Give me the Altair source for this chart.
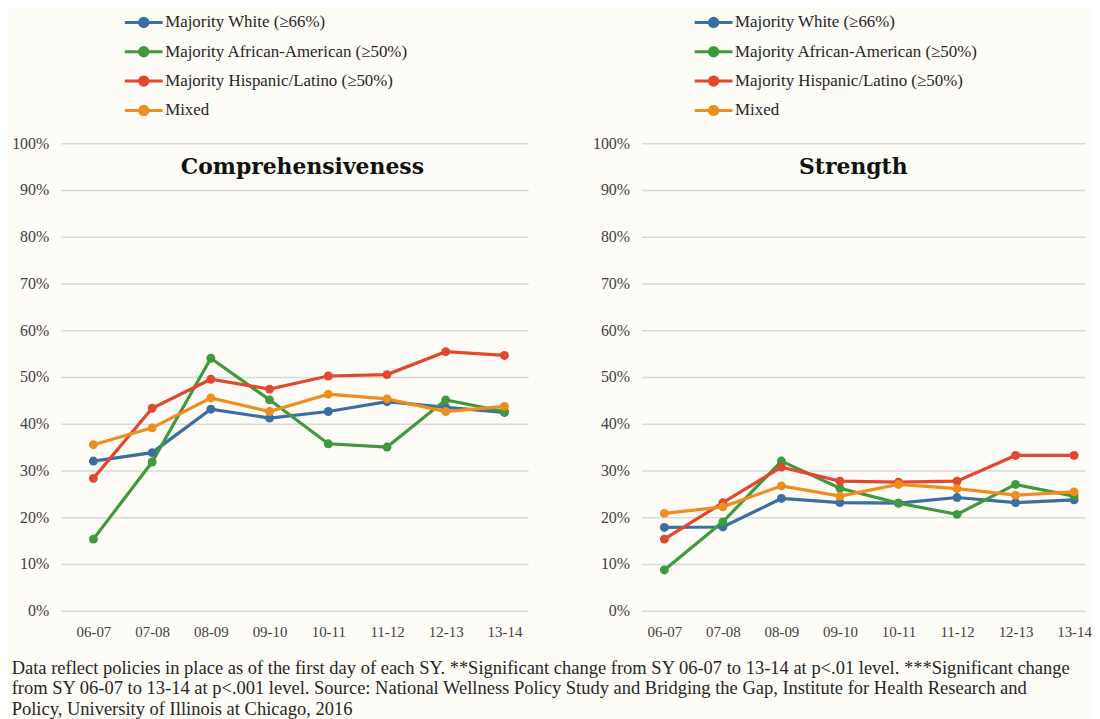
import altair as alt
import pandas as pd

years = ["06-07", "07-08", "08-09", "09-10", "10-11", "11-12", "12-13", "13-14"]
groups = [
    "Majority White (≥66%)",
    "Majority African-American (≥50%)",
    "Majority Hispanic/Latino (≥50%)",
    "Mixed",
]
colors = ["#3A6EA5", "#3E9A3C", "#E2472F", "#EE8E1F"]

comp_white = [32.0, 33.8, 43.1, 41.2, 42.6, 44.7, 43.5, 42.4]
comp_black = [15.3, 31.8, 54.0, 45.1, 35.7, 35.0, 45.1, 42.6]
comp_hisp = [28.3, 43.3, 49.5, 47.4, 50.2, 50.5, 55.4, 54.6]
comp_mixed = [35.5, 39.1, 45.5, 42.6, 46.3, 45.3, 42.6, 43.7]

str_white = [17.8, 17.9, 24.0, 23.1, 23.0, 24.2, 23.1, 23.7]
str_black = [8.7, 19.0, 32.0, 26.2, 23.0, 20.6, 27.0, 24.5]
str_hisp = [15.3, 23.1, 30.7, 27.7, 27.5, 27.7, 33.2, 33.2]
str_mixed = [20.8, 22.2, 26.7, 24.5, 27.0, 26.1, 24.7, 25.4]

footnote = [
    "Data reflect policies in place as of the first day of each SY. **Significant change from SY 06-07 to 13-14 at p<.01 level. ***Significant change",
    "from SY 06-07 to 13-14 at p<.001 level. Source: National Wellness Policy Study and Bridging the Gap, Institute for Health Research and",
    "Policy, University of Illinois at Chicago, 2016",
]


def make_df(series):
    rows = []
    for g, vals in zip(groups, series):
        for y, v in zip(years, vals):
            rows.append({"group": g, "year": y, "value": v})
    return pd.DataFrame(rows)


comp_df = make_df([comp_white, comp_black, comp_hisp, comp_mixed])
str_df = make_df([str_white, str_black, str_hisp, str_mixed])

SERIF = "Liberation Serif"
SYMBOL = "M-1.9,0H1.9M0.42,0A0.42,0.42,0,1,1,-0.42,0A0.42,0.42,0,1,1,0.42,0Z"


def panel(df, title, width, pad, align, legend_x, title_dx):
    base = alt.Chart(df)
    x = alt.X(
        "year:N",
        sort=years,
        scale=alt.Scale(type="point", padding=pad, align=align),
        axis=alt.Axis(
            title=None, labelAngle=0, domain=False, ticks=False, grid=False,
            labelPadding=14, labelFont=SERIF, labelFontSize=15, labelColor="#404040",
        ),
    )
    y = alt.Y(
        "value:Q",
        scale=alt.Scale(domain=[0, 100], nice=False),
        axis=alt.Axis(
            title=None, values=list(range(0, 101, 10)), labelExpr="datum.value + '%'",
            domain=False, ticks=False, gridColor="#D9D9D9", gridWidth=1.5,
            labelPadding=12, labelFont=SERIF, labelFontSize=16, labelColor="#404040",
        ),
    )
    color = alt.Color(
        "group:N",
        scale=alt.Scale(domain=groups, range=colors),
        legend=alt.Legend(
            title=None, orient="none", legendX=legend_x, legendY=-133, direction="vertical",
            symbolType=SYMBOL, symbolSize=400, symbolStrokeWidth=3,
            labelFont=SERIF, labelFontSize=17, labelColor="#262626", labelOffset=10,
            labelLimit=400, rowPadding=7.5,
        ),
    )
    line = base.mark_line(strokeWidth=3.2).encode(x=x, y=y, color=color)
    pts = base.mark_point(filled=True, size=80, opacity=1).encode(x=x, y=y, color=color)
    return alt.layer(line, pts).properties(
        width=width,
        height=470,
        title=alt.TitleParams(
            title, offset=-169, fontSize=22, font="DejaVu Serif", fontWeight="bold",
            color="#111111", anchor="middle", dx=title_dx,
        ),
    )


left = panel(comp_df, "Comprehensiveness", 470, 0.48, 0.58, 72, 8)
right = panel(str_df, "Strength", 446, 0.289, 0.676, 61, -10)

chart = (
    alt.hconcat(left, right, spacing=64)
    .resolve_scale(color="independent")
    .resolve_legend(color="independent")
    .properties(
        title=alt.TitleParams(
            footnote, orient="bottom", anchor="start", fontSize=18.6, font=SERIF,
            fontWeight="normal", color="#262626", lineHeight=20.3, offset=20,
        ),
        padding={"left": 3, "top": 1, "right": 0, "bottom": 0},
    )
    .configure(background="#FDFCF6")
    .configure_view(stroke=None)
)

chart.save("out.html", embed_options={"renderer": "svg", "actions": False})
